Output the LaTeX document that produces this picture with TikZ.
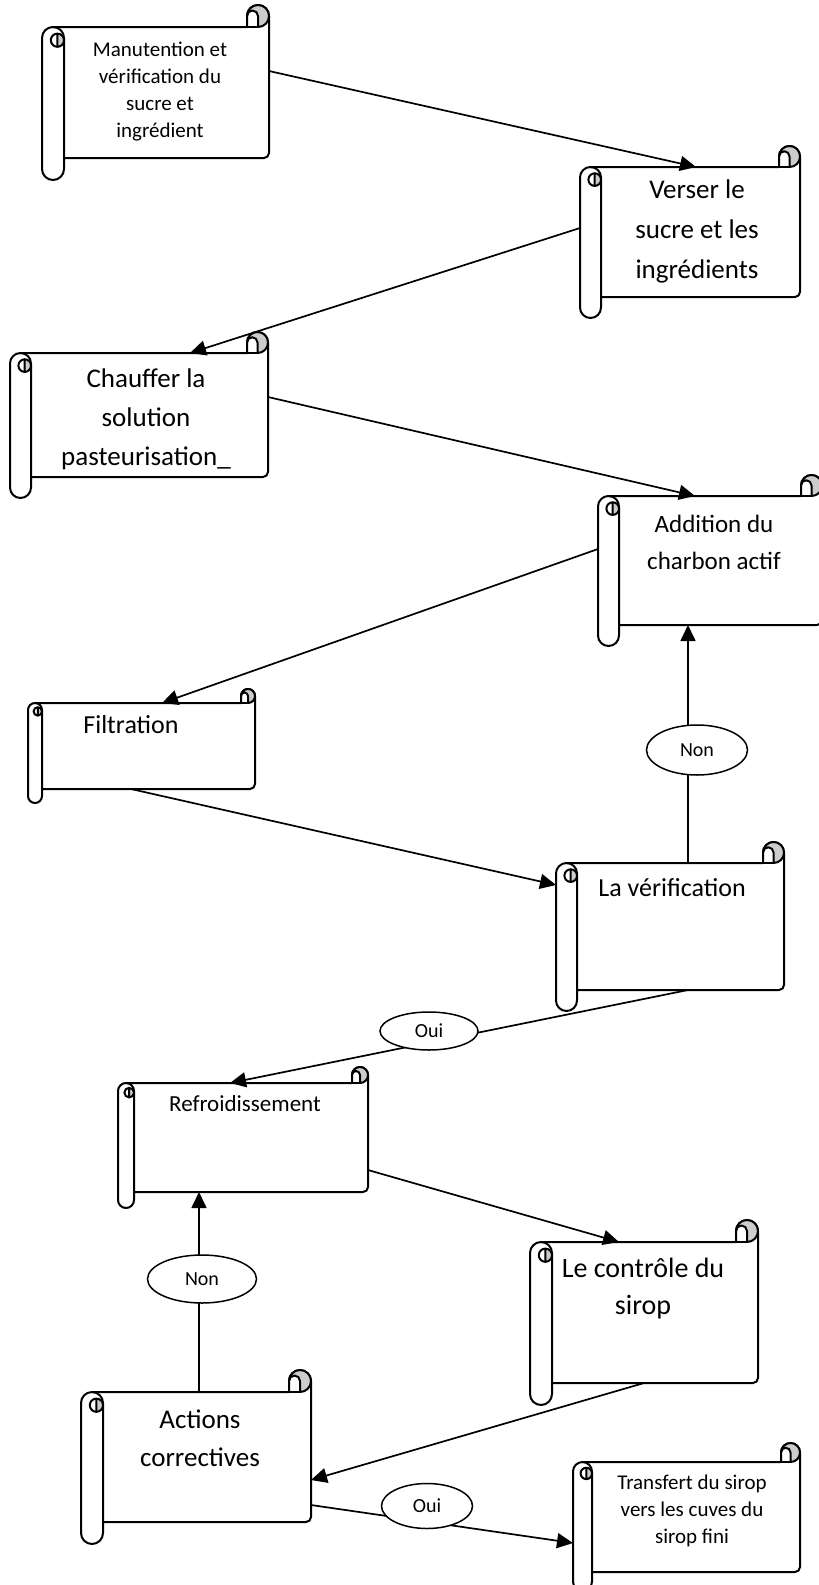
\documentclass[tikz,border=0pt]{standalone}
\usepackage{fontspec}
\setmainfont{Carlito}
\usepackage{tikz}
\usetikzlibrary{arrows.meta,positioning,fit,calc,shapes.geometric}
\definecolor{curlgray}{gray}{0.8}

\begin{document}
\begin{tikzpicture}[x=1pt, y=-1pt,
    outline/.style={draw, line width=2pt, line join=round},
    body/.style={inner sep=0pt, outer sep=0pt},
    boxtext/.style={align=center, inner sep=0pt},
    choice/.style={ellipse, draw, line width=1.5pt, fill=white, inner sep=0pt, font=\fontsize{20}{24}\selectfont},
    arrow/.style={-{Triangle[length=16pt,width=15pt]}, line width=1.7pt}
]
\fill[white] (0,0) rectangle (819,1585);
\useasboundingbox (0,0) rectangle (819,1585);
% name, left, top, right, bottom, curl radius
\newcommand{\scroll}[6]{
    \filldraw[outline, fill=white] (#2,#5-#6) -- (#2,#3+3*#6) arc[start angle=180, end angle=270, radius=#6]
        -- (#4-2*#6,#3+2*#6) -- (#4-2*#6,#3+#6) arc[start angle=180, end angle=360, radius=#6]
        -- (#4,#5-2*#6-5) arc[start angle=0, end angle=90, radius=5]
        -- (#2+2*#6,#5-2*#6) -- (#2+2*#6,#5-#6) arc[start angle=0, end angle=180, radius=#6] -- cycle;
    \draw[outline] (#2+#6,#3+2*#6) arc[start angle=270, end angle=360, radius=#6] -- (#2+2*#6,#5-2*#6);
    \draw[outline] (#4-2*#6,#3+2*#6) -- (#4-#6,#3+2*#6);
    \filldraw[outline, fill=curlgray] (#2+1.4*#6,#3+2.6*#6) arc[start angle=270, end angle=450, radius=0.6*#6] -- cycle;
    \draw[outline] (#2+1.4*#6,#3+2.6*#6) arc[start angle=270, end angle=90, radius=0.6*#6];
    \filldraw[outline, fill=curlgray] (#4-2*#6,#3+#6) arc[start angle=180, end angle=360, radius=#6]
        arc[start angle=0, end angle=90, radius=#6] -- (#4-#6,#3+#6)
        arc[start angle=0, end angle=-180, radius=#6/2] -- cycle;
    \node[body, fit={(#2,#3+2*#6) (#4,#5-2*#6)}] (#1) {};
}

\scroll{manut}{42}{5}{269}{180}{11}
\node[boxtext, font=\fontsize{21}{27}\selectfont] (manut-text) at (160,92) {Manutention et\\vérification du\\sucre et\\ingrédient};

\scroll{verser}{580}{146}{800}{318}{10.5}
\node[boxtext, font=\fontsize{27}{40}\selectfont] (verser-text) at (697,231) {Verser le\\sucre et les\\ingrédients};

\scroll{chauffer}{10}{332}{268}{498}{10.5}
\node[boxtext, font=\fontsize{27}{39}\selectfont] (chauffer-text) at (146,419) {Chauffer la\\solution\\pasteurisation\_};

\scroll{addition}{598}{475}{822}{646}{10.5}
\node[boxtext, font=\fontsize{25}{37}\selectfont] (addition-text) at (714,542) {Addition du\\charbon actif};

\scroll{filtration}{28}{689}{255}{803}{7}
\node[boxtext, font=\fontsize{26}{30}\selectfont] (filtration-text) at (131,725) {Filtration};

\scroll{verif}{556}{842}{784}{1011}{10.5}
\node[boxtext, font=\fontsize{26}{30}\selectfont] (verif-text) at (672,888) {La vérification};

\scroll{refroid}{118}{1067}{368}{1208}{8}
\node[boxtext, font=\fontsize{23}{28}\selectfont] (refroid-text) at (245,1104) {Refroidissement};

\scroll{controle}{530}{1220}{758}{1405}{11}
\node[boxtext, font=\fontsize{28}{37}\selectfont] (controle-text) at (643,1289) {Le contrôle du\\sirop};

\scroll{actions}{81}{1370}{311}{1544}{11}
\node[boxtext, font=\fontsize{27}{38}\selectfont] (actions-text) at (200,1438) {Actions\\correctives};

\scroll{transfert}{573}{1443}{800}{1591}{9.5}
\node[boxtext, font=\fontsize{21}{27}\selectfont] (transfert-text) at (692,1511) {Transfert du sirop\\vers les cuves du\\sirop fini};

\draw[arrow] ([yshift=21.5pt]manut.east) -- ([xshift=6pt]verser.north);
\draw[arrow] ([yshift=4pt]verser.west) -- ([xshift=51pt]chauffer.north);
\draw[arrow] ([yshift=18pt]chauffer.east) -- ([xshift=-15pt]addition.north);
\draw[arrow] ([yshift=11.5pt]addition.west) -- ([xshift=20.5pt]filtration.north);
\draw[arrow] ([xshift=-10.5pt]filtration.south) -- ([yshift=41.5pt]verif.west);
\draw[arrow] ([xshift=18pt]verif.north) -- ([xshift=18pt]verif.north |- addition.south);
\draw[arrow] ([xshift=18pt]verif.south) -- ([xshift=-13pt]refroid.north);
\draw[arrow] ([yshift=-32.5pt]refroid.east) -- ([xshift=-25pt]controle.north);
\draw[arrow] (controle.south) -- ([yshift=-23pt]actions.east);
\draw[arrow] ([xshift=3pt]actions.north) -- ([xshift=3pt]actions.north |- refroid.south);
\draw[arrow] ([yshift=-48pt]actions.east) -- ([yshift=-26pt]transfert.west);

\node[choice, minimum width=101pt, minimum height=50pt] (non1) at (697,750) {Non};
\node[choice, minimum width=98pt, minimum height=38pt] (oui1) at (429,1031) {Oui};
\node[choice, minimum width=109pt, minimum height=48pt] (non2) at (202,1279) {Non};
\node[choice, minimum width=91pt, minimum height=45pt] (oui2) at (427,1506) {Oui};
\end{tikzpicture}
\end{document}
